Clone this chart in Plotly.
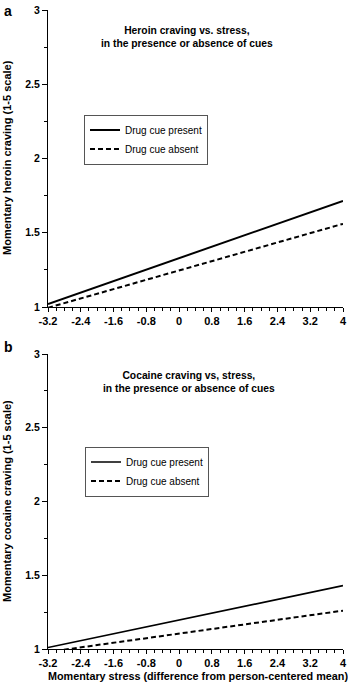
import plotly.graph_objects as go
from plotly.subplots import make_subplots

stress = [-3.2, 4.0]
heroin_cue_present = [1.02, 1.715]
heroin_cue_absent = [0.995, 1.56]
cocaine_cue_present = [1.01, 1.43]
cocaine_cue_absent = [0.98, 1.26]

x_ticks = [-3.2, -2.4, -1.6, -0.8, 0, 0.8, 1.6, 2.4, 3.2, 4]
x_tick_labels = ["-3.2", "-2.4", "-1.6", "-0.8", "0", "0.8", "1.6", "2.4", "3.2", "4"]
y_ticks = [1, 1.5, 2, 2.5, 3]
y_tick_labels = ["1", "1.5", "2", "2.5", "3"]

FONT = "Liberation Sans, Arial, Helvetica, sans-serif"
BOLD = "<b>{}</b>"

L, R, T, B = 48, 5, 10, 36
W, HGT = 348, 685
PW = W - L - R
bot_px = HGT - B
H = HGT - T - B


def px_x(x):
    return (x - L) / PW


def px_y(y):
    return (bot_px - y) / H


fig = make_subplots(rows=2, cols=1)

line_solid = dict(color="black", width=2)
line_dash = dict(color="black", width=2, dash="5px,3px")

fig.add_trace(go.Scatter(x=stress, y=heroin_cue_present, mode="lines", line=line_solid,
                         name="Drug cue present", legend="legend"), row=1, col=1)
fig.add_trace(go.Scatter(x=stress, y=heroin_cue_absent, mode="lines", line=line_dash,
                         name="Drug cue absent", legend="legend"), row=1, col=1)
fig.add_trace(go.Scatter(x=stress, y=cocaine_cue_present, mode="lines", line=dict(color="black", width=1.7),
                         name="Drug cue present", legend="legend2"), row=2, col=1)
fig.add_trace(go.Scatter(x=stress, y=cocaine_cue_absent, mode="lines", line=line_dash,
                         name="Drug cue absent", legend="legend2"), row=2, col=1)

xaxis_common = dict(
    range=[-3.2, 4], tickvals=x_ticks, ticktext=[BOLD.format(t) for t in x_tick_labels],
    showline=True, linecolor="black", linewidth=1, ticks="outside", ticklen=4, tickwidth=1,
    tickcolor="black", showgrid=False, zeroline=False, automargin=False,
    ticklabeloverflow="allow",
    minor=dict(tick0=-3.2, dtick=0.2, ticks="outside", ticklen=2.5, tickcolor="black", showgrid=False),
    tickfont=dict(family=FONT, size=11, color="black"),
)
yaxis_common = dict(
    range=[1, 3], tickvals=y_ticks, ticktext=[BOLD.format(t) for t in y_tick_labels],
    showline=True, linecolor="black", linewidth=1, ticks="outside", ticklen=5, tickwidth=1,
    tickcolor="black", showgrid=False, zeroline=False, automargin=False,
    ticklabeloverflow="allow",
    minor=dict(tick0=1, dtick=0.25, ticks="outside", ticklen=3, tickcolor="black", showgrid=False),
    tickfont=dict(family=FONT, size=10.5, color="black"),
)

legend_common = dict(
    xanchor="left", yanchor="middle", xref="paper", yref="paper",
    bordercolor="#555", borderwidth=1, bgcolor="white",
    font=dict(family=FONT, size=10, color="black"), tracegroupgap=0, itemwidth=30,
)

fig.update_layout(
    width=W, height=HGT,
    margin=dict(l=L, r=R, t=T, b=B),
    paper_bgcolor="white", plot_bgcolor="white",
    font=dict(family=FONT, color="black"),
    xaxis=dict(xaxis_common, domain=[0, 1]),
    xaxis2=dict(xaxis_common, domain=[0, 1]),
    yaxis=dict(yaxis_common, domain=[px_y(307), px_y(10)]),
    yaxis2=dict(yaxis_common, domain=[px_y(649), px_y(354)]),
    legend=dict(legend_common, x=px_x(84), y=px_y(139.5)),
    legend2=dict(legend_common, x=px_x(85), y=px_y(471.5)),
    showlegend=True,
)

# panel titles
fig.add_annotation(text=BOLD.format("Heroin craving vs. stress,<br>in the presence or absence of cues"),
                   x=0.2, y=2.82, xref="x", yref="y", showarrow=False,
                   xanchor="center", yanchor="middle",
                   font=dict(family=FONT, size=10.3, color="black"), align="center")
fig.add_annotation(text=BOLD.format("Cocaine craving vs, stress,<br>in the presence or absence of cues"),
                   x=0.25, y=2.81, xref="x2", yref="y2", showarrow=False,
                   xanchor="center", yanchor="middle",
                   font=dict(family=FONT, size=10.3, color="black"), align="center")

# axis titles
fig.add_annotation(text=BOLD.format("Momentary heroin craving (1-5 scale)"),
                   x=px_x(7), y=px_y(158), xref="paper", yref="paper", textangle=-90,
                   xanchor="center", yanchor="middle",
                   showarrow=False, font=dict(family=FONT, size=11, color="black"))
fig.add_annotation(text=BOLD.format("Momentary cocaine craving (1-5 scale)"),
                   x=px_x(7), y=px_y(501), xref="paper", yref="paper", textangle=-90,
                   xanchor="center", yanchor="middle",
                   showarrow=False, font=dict(family=FONT, size=11, color="black"))
fig.add_annotation(text=BOLD.format("Momentary stress (difference from person-centered mean)"),
                   x=px_x(198), y=px_y(676), xref="paper", yref="paper",
                   xanchor="center", yanchor="middle",
                   showarrow=False, font=dict(family=FONT, size=10.8, color="black"))

# panel letters
fig.add_annotation(text=BOLD.format("a"), x=px_x(2), y=px_y(1), xref="paper", yref="paper",
                   xanchor="left", yanchor="top", showarrow=False,
                   font=dict(family=FONT, size=14, color="black"))
fig.add_annotation(text=BOLD.format("b"), x=px_x(2), y=px_y(337), xref="paper", yref="paper",
                   xanchor="left", yanchor="top", showarrow=False,
                   font=dict(family=FONT, size=14, color="black"))

fig.write_html(
    "out.html",
    config={"displayModeBar": False},
    post_script="document.body.style.margin='0px';document.body.style.padding='0px';"
                "document.body.style.overflow='hidden';",
)
